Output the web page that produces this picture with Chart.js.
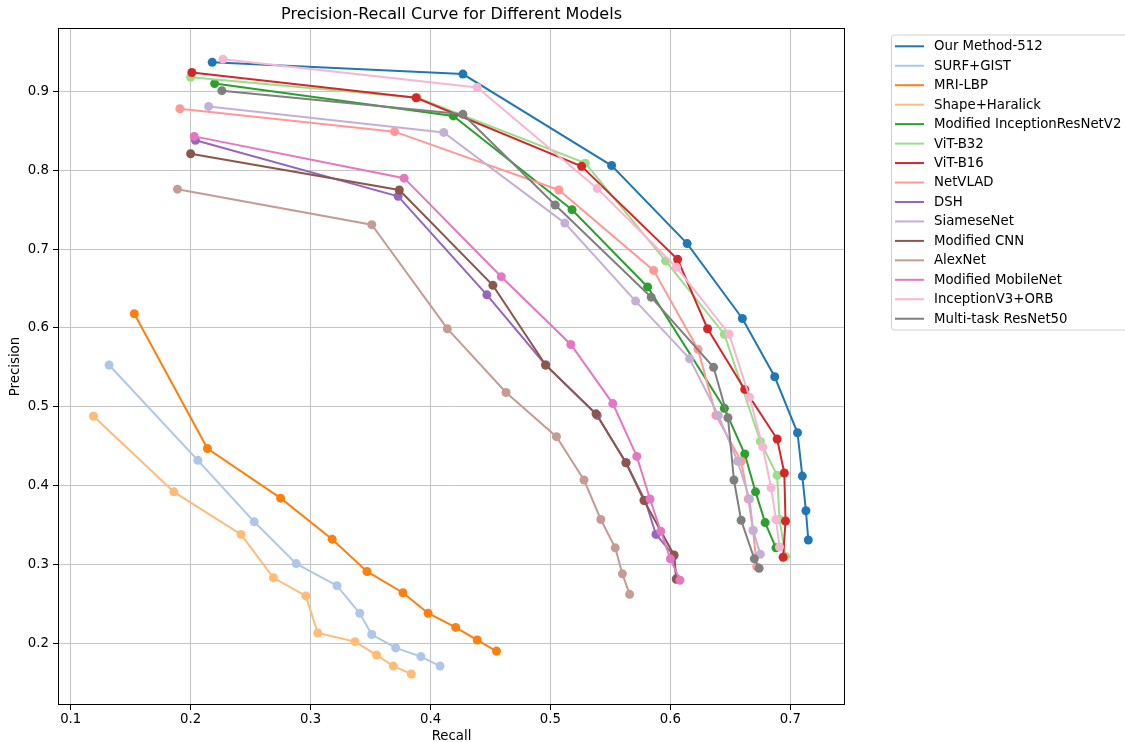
<!DOCTYPE html>
<html lang="en">
<head>
  <meta charset="UTF-8">
  <title>Precision-Recall Curve for Different Models</title>
  <script src="https://cdn.jsdelivr.net/npm/chart.js"></script>
  <style>
    * { margin: 0; padding: 0; box-sizing: border-box; }
    body { background: #fff; width: 1125px; height: 742px; overflow: hidden; }
    #prChart { display: block; }
  </style>
</head>
<body>
  <canvas id="prChart" width="1125" height="742"></canvas>

  <script>
    // Series names, colours and values
    const modelNames = [
      'Our Method-512', 'SURF+GIST', 'MRI-LBP', 'Shape+Haralick',
      'Modified InceptionResNetV2', 'ViT-B32', 'ViT-B16', 'NetVLAD',
      'DSH', 'SiameseNet', 'Modified CNN', 'AlexNet',
      'Modified MobileNet', 'InceptionV3+ORB', 'Multi-task ResNet50'
    ];
    const modelColors = [
      '#1f77b4', '#aec7e8', '#ff7f0e', '#ffbb78', '#2ca02c', '#98df8a', '#d62728', '#ff9896',
      '#9467bd', '#c5b0d5', '#8c564b', '#c49c94', '#e377c2', '#f7b6d2', '#7f7f7f'
    ];

    const ourMethodRecall = [0.218, 0.427, 0.551, 0.614, 0.660, 0.687, 0.706, 0.710, 0.713, 0.715];
    const ourMethodPrecision = [0.937, 0.922, 0.806, 0.707, 0.612, 0.538, 0.467, 0.412, 0.368, 0.331];
    const surfGistRecall = [0.132, 0.206, 0.253, 0.288, 0.322, 0.341, 0.351, 0.371, 0.392, 0.408];
    const surfGistPrecision = [0.553, 0.432, 0.354, 0.301, 0.273, 0.238, 0.211, 0.194, 0.183, 0.171];
    const mriLbpRecall = [0.153, 0.214, 0.275, 0.318, 0.347, 0.377, 0.398, 0.421, 0.439, 0.455];
    const mriLbpPrecision = [0.618, 0.447, 0.384, 0.332, 0.291, 0.264, 0.238, 0.220, 0.204, 0.190];
    const shapeHaralickRecall = [0.119, 0.186, 0.242, 0.269, 0.296, 0.306, 0.337, 0.355, 0.369, 0.384];
    const shapeHaralickPrecision = [0.488, 0.392, 0.338, 0.283, 0.260, 0.213, 0.202, 0.185, 0.171, 0.161];
    const incResV2Recall = [0.220, 0.419, 0.518, 0.581, 0.645, 0.662, 0.671, 0.679, 0.688];
    const incResV2Precision = [0.910, 0.869, 0.750, 0.652, 0.498, 0.440, 0.392, 0.353, 0.321];
    const vitB32Recall = [0.200, 0.389, 0.529, 0.596, 0.645, 0.675, 0.689, 0.691, 0.696];
    const vitB32Precision = [0.918, 0.892, 0.809, 0.685, 0.592, 0.456, 0.413, 0.357, 0.310];
    const vitB16Recall = [0.201, 0.388, 0.526, 0.606, 0.631, 0.662, 0.689, 0.695, 0.696, 0.694];
    const vitB16Precision = [0.924, 0.892, 0.805, 0.687, 0.599, 0.522, 0.459, 0.416, 0.355, 0.309];
    const netVladRecall = [0.191, 0.370, 0.507, 0.586, 0.623, 0.638, 0.659, 0.665, 0.669, 0.672];
    const netVladPrecision = [0.878, 0.849, 0.775, 0.673, 0.573, 0.489, 0.431, 0.383, 0.343, 0.297];
    const dshRecall = [0.204, 0.373, 0.447, 0.496, 0.539, 0.563, 0.579, 0.588, 0.603, 0.605];
    const dshPrecision = [0.838, 0.767, 0.642, 0.553, 0.489, 0.429, 0.381, 0.338, 0.311, 0.282];
    const siameseRecall = [0.215, 0.411, 0.512, 0.571, 0.616, 0.640, 0.656, 0.666, 0.669, 0.675];
    const siamesePrecision = [0.881, 0.848, 0.733, 0.634, 0.561, 0.489, 0.431, 0.383, 0.343, 0.313];
    const modCnnRecall = [0.200, 0.374, 0.452, 0.496, 0.538, 0.563, 0.578, 0.603, 0.605];
    const modCnnPrecision = [0.821, 0.775, 0.654, 0.553, 0.491, 0.429, 0.381, 0.312, 0.281];
    const alexNetRecall = [0.189, 0.351, 0.414, 0.463, 0.505, 0.528, 0.542, 0.554, 0.560, 0.566];
    const alexNetPrecision = [0.776, 0.731, 0.599, 0.518, 0.462, 0.407, 0.357, 0.321, 0.288, 0.262];
    const mobileNetRecall = [0.203, 0.378, 0.459, 0.517, 0.552, 0.572, 0.583, 0.592, 0.600, 0.608];
    const mobileNetPrecision = [0.843, 0.790, 0.665, 0.579, 0.504, 0.437, 0.383, 0.342, 0.307, 0.280];
    const incV3OrbRecall = [0.227, 0.439, 0.539, 0.605, 0.649, 0.666, 0.677, 0.684, 0.688, 0.691];
    const incV3OrbPrecision = [0.941, 0.905, 0.777, 0.677, 0.592, 0.512, 0.449, 0.397, 0.357, 0.322];
    const multiTaskRecall = [0.226, 0.427, 0.504, 0.584, 0.636, 0.648, 0.653, 0.659, 0.670, 0.674];
    const multiTaskPrecision = [0.901, 0.871, 0.756, 0.639, 0.550, 0.486, 0.407, 0.356, 0.307, 0.295];

    const xTicks = [0.1, 0.2, 0.3, 0.4, 0.5, 0.6, 0.7];
    const yTicks = [0.2, 0.3, 0.4, 0.5, 0.6, 0.7, 0.8, 0.9];

    const seriesRecall = [
      ourMethodRecall, surfGistRecall, mriLbpRecall, shapeHaralickRecall, incResV2Recall,
      vitB32Recall, vitB16Recall, netVladRecall, dshRecall, siameseRecall,
      modCnnRecall, alexNetRecall, mobileNetRecall, incV3OrbRecall, multiTaskRecall
    ];
    const seriesPrecision = [
      ourMethodPrecision, surfGistPrecision, mriLbpPrecision, shapeHaralickPrecision, incResV2Precision,
      vitB32Precision, vitB16Precision, netVladPrecision, dshPrecision, siamesePrecision,
      modCnnPrecision, alexNetPrecision, mobileNetPrecision, incV3OrbPrecision, multiTaskPrecision
    ];

    const FONT = '"DejaVu Sans", sans-serif';

    const datasets = modelNames.map((name, i) => ({
      label: name,
      data: seriesRecall[i].map((r, k) => ({ x: r, y: seriesPrecision[i][k] })),
      showLine: true,
      borderColor: modelColors[i],
      backgroundColor: modelColors[i],
      borderWidth: 2,
      pointRadius: 4.5,
      pointBorderWidth: 0,
      pointBackgroundColor: modelColors[i],
      // matplotlib draws later series on top
      order: modelNames.length - i
    }));

    // Title, axis labels, frame and legend box
    const decorations = {
      id: 'decorations',
      afterDraw(chart) {
        const ctx = chart.ctx;
        const a = chart.chartArea;
        ctx.save();

        ctx.strokeStyle = '#000';
        ctx.lineWidth = 1;
        ctx.strokeRect(a.left + 0.5, a.top + 0.5, a.right - a.left - 1, a.bottom - a.top - 1);

        ctx.fillStyle = '#000';
        ctx.textAlign = 'center';
        ctx.textBaseline = 'middle';
        ctx.font = '16px ' + FONT;
        ctx.fillText('Precision-Recall Curve for Different Models', (a.left + a.right) / 2, 15);

        ctx.font = '13.3px ' + FONT;
        ctx.fillText('Recall', (a.left + a.right) / 2, 737);
        ctx.save();
        ctx.translate(16, (a.top + a.bottom) / 2);
        ctx.rotate(-Math.PI / 2);
        ctx.fillText('Precision', 0, 0);
        ctx.restore();

        // legend
        const lx = 891, ly = 34.5, lh = 295;
        ctx.beginPath();
        ctx.roundRect(lx + 0.5, ly + 0.5, 260, lh, 3);
        ctx.fillStyle = 'rgba(255,255,255,0.8)';
        ctx.fill();
        ctx.strokeStyle = '#d0d0d0';
        ctx.stroke();

        ctx.textAlign = 'left';
        modelNames.forEach((name, i) => {
          const y = 46.3 + i * 19.46;
          ctx.strokeStyle = modelColors[i];
          ctx.lineWidth = 2;
          ctx.beginPath();
          ctx.moveTo(895, y);
          ctx.lineTo(924, y);
          ctx.stroke();
          ctx.fillStyle = '#000';
          ctx.fillText(name, 934, y + 0.5);
        });
        ctx.restore();
      }
    };

    const tickFont = { family: FONT, size: 13.3 };

    new Chart(document.getElementById('prChart'), {
      type: 'scatter',
      data: { datasets },
      options: {
        responsive: false,
        animation: false,
        layout: { padding: { left: 0, top: 28, right: 280, bottom: 0 } },
        plugins: {
          legend: { display: false },
          title: { display: false },
          tooltip: { enabled: false }
        },
        scales: {
          x: {
            type: 'linear',
            min: 0.0894,
            max: 0.7456,
            afterFit: s => { s.height = 37; },
            afterBuildTicks: s => { s.ticks = xTicks.map(v => ({ value: v })); },
            ticks: { font: tickFont, color: '#000', padding: 2, callback: v => v.toFixed(1) },
            grid: { color: '#c4c4c4', lineWidth: 1, tickColor: '#000', tickLength: 5 },
            border: { display: false }
          },
          y: {
            type: 'linear',
            min: 0.1216,
            max: 0.9805,
            afterFit: s => { s.width = 58; },
            afterBuildTicks: s => { s.ticks = yTicks.map(v => ({ value: v })); },
            ticks: { font: tickFont, color: '#000', padding: 4, callback: v => v.toFixed(1) },
            grid: { color: '#c4c4c4', lineWidth: 1, tickColor: '#000', tickLength: 5 },
            border: { display: false }
          }
        }
      },
      plugins: [decorations]
    });
  </script>
</body>
</html>
